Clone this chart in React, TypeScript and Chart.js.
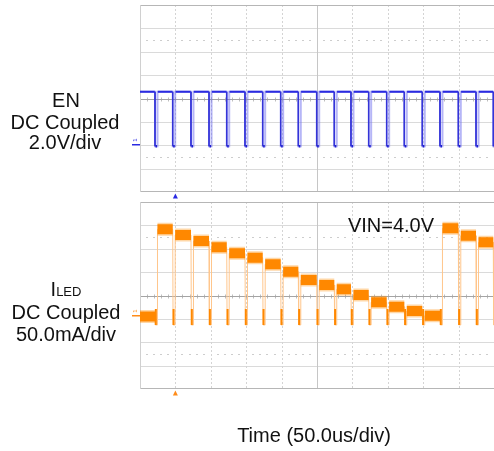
import React, { useEffect, useRef } from 'react';
import { Chart, registerables } from 'chart.js';

Chart.register(...registerables);

// ---- time base ----
const TIME_DIV_US = 50;
const TIME_DIVS = 10;
const Y_DIVS = 8;
const TRIGGER_US = 50;

// ---- EN channel (2.0 V/div) ----
const EN_PULSE_US = [21.2, 46.2, 72.0, 97.5, 122.5, 148.3, 173.3, 198.7, 223.6, 249.6, 274.4, 298.0, 323.0, 348.4, 373.3, 398.7, 423.7, 449.6, 474.6, 499.0];
const EN_PULSE_WIDTH_US = 3.5;
const EN_HIGH_V = 4.65;
const EN_LOW_V = 0;
const EN_AXIS_V = [-3.92, 12.08];

// ---- ILED channel (50.0 mA/div) ----
// level before the first EN pulse, then the level after each EN pulse
const ILED_LEVEL_MA = [0, 186.5, 174.3, 161.5, 148.0, 135.2, 125.8, 111.7, 95.8, 78.1, 67.4, 58.2, 46.0, 30.4, 21.0, 11.8, 1.7, 188.7, 172.8, 158.7, 146.0];
const ILED_DIP_MA = [-18, 16];
const ILED_AXIS_MA = [-155, 245];

type Pt = { x: number; y: number | null };

function segments(list: number[][]): Pt[] {
  const out: Pt[] = [];
  for (const [x1, y1, x2, y2] of list) {
    out.push({ x: x1, y: y1 }, { x: x2, y: y2 }, { x: x2, y: null });
  }
  return out;
}

const T_END = TIME_DIVS * TIME_DIV_US;

// EN full waveform
const enWave: Pt[] = [{ x: 0, y: EN_HIGH_V }];
EN_PULSE_US.forEach((t) => {
  enWave.push({ x: t, y: EN_HIGH_V }, { x: t, y: EN_LOW_V }, { x: t + EN_PULSE_WIDTH_US, y: EN_LOW_V }, { x: t + EN_PULSE_WIDTH_US, y: EN_HIGH_V });
});
enWave.push({ x: T_END, y: EN_HIGH_V });

const enHigh: Pt[] = segments(
  EN_PULSE_US.map((t, i) => [i === 0 ? 0 : EN_PULSE_US[i - 1] + EN_PULSE_WIDTH_US + 0.4, EN_HIGH_V, t - 0.3, EN_HIGH_V]).concat([
    [EN_PULSE_US[EN_PULSE_US.length - 1] + EN_PULSE_WIDTH_US + 0.4, EN_HIGH_V, T_END, EN_HIGH_V],
  ])
);
const enFall: Pt[] = segments(EN_PULSE_US.map((t) => [t, EN_HIGH_V, t, EN_LOW_V]));
const enLow: Pt[] = segments(EN_PULSE_US.map((t) => [t + 0.6, EN_LOW_V, t + EN_PULSE_WIDTH_US - 0.6, EN_LOW_V]));

// ILED waveform
const iledWave: Pt[] = [{ x: 0, y: ILED_LEVEL_MA[0] }];
EN_PULSE_US.forEach((t, i) => {
  iledWave.push(
    { x: t, y: ILED_LEVEL_MA[i] },
    { x: t + 0.5, y: ILED_DIP_MA[0] },
    { x: t + EN_PULSE_WIDTH_US, y: ILED_DIP_MA[0] },
    { x: t + EN_PULSE_WIDTH_US, y: ILED_LEVEL_MA[i + 1] }
  );
});
iledWave.push({ x: T_END, y: ILED_LEVEL_MA[ILED_LEVEL_MA.length - 1] });

const iledBands: Pt[] = segments(
  ILED_LEVEL_MA.map((lv, i) => [
    i === 0 ? 0 : EN_PULSE_US[i - 1] + EN_PULSE_WIDTH_US,
    lv,
    i < EN_PULSE_US.length ? EN_PULSE_US[i] : T_END,
    lv,
  ])
);
const iledDips: Pt[] = segments(EN_PULSE_US.map((t) => [t + 1.2, ILED_DIP_MA[0], t + 1.2, ILED_DIP_MA[1]]));

const scopePlugin = {
  id: 'scope',
  beforeDatasetsDraw(chart: any) {
    const { ctx, chartArea: a } = chart;
    const xs = chart.scales.x;
    const ys = chart.scales.y;
    const xDiv = (xs.max - xs.min) / TIME_DIVS;
    const yDiv = (ys.max - ys.min) / Y_DIVS;
    const px = (v: number) => Math.round(xs.getPixelForValue(v)) + 0.5;
    const py = (v: number) => Math.round(ys.getPixelForValue(v)) + 0.5;
    const line = (x1: number, y1: number, x2: number, y2: number) => {
      ctx.beginPath();
      ctx.moveTo(x1, y1);
      ctx.lineTo(x2, y2);
      ctx.stroke();
    };
    const yCenter = ys.min + (Y_DIVS / 2) * yDiv;
    const xCenter = xs.min + (TIME_DIVS / 2) * xDiv;
    ctx.save();
    ctx.lineWidth = 1;
    // horizontal grid
    ctx.strokeStyle = '#dadada';
    for (let i = 1; i < Y_DIVS; i++) {
      if (i === Y_DIVS / 2) continue;
      const y = py(ys.min + i * yDiv);
      line(a.left, y, a.right, y);
    }
    // vertical dashed grid
    ctx.strokeStyle = '#d4d4d4';
    ctx.setLineDash([2, 2]);
    for (let i = 1; i < TIME_DIVS; i++) {
      if (i === TIME_DIVS / 2) continue;
      const x = px(xs.min + i * xDiv);
      line(x, a.top, x, a.bottom);
    }
    ctx.setLineDash([]);
    // dotted rows
    ctx.fillStyle = '#cdcdcd';
    for (const off of [-2.5, 2.5]) {
      const y = Math.round(ys.getPixelForValue(yCenter + off * yDiv));
      for (let j = 1; j < TIME_DIVS * 5; j++) {
        if (j % 5 === 0) continue;
        const x = Math.round(xs.getPixelForValue(xs.min + (j * xDiv) / 5));
        ctx.fillRect(x - 1, y, 2, 1);
      }
    }
    // center vertical
    ctx.strokeStyle = '#c6c6c6';
    const xc = px(xCenter);
    line(xc, a.top, xc, a.bottom);
    // center horizontal with ticks
    const yc = py(yCenter);
    ctx.strokeStyle = '#bdbdbd';
    for (let j = 1; j < TIME_DIVS * 5; j++) {
      const x = px(xs.min + (j * xDiv) / 5);
      line(x, yc - 2, x, yc + 2);
    }
    ctx.strokeStyle = '#a4a4a4';
    line(a.left, yc, a.right, yc);
    // border
    ctx.strokeStyle = '#b6b6b6';
    line(a.left, Math.round(a.top) + 0.5, a.right, Math.round(a.top) + 0.5);
    line(a.left, Math.round(a.bottom) - 0.5, a.right, Math.round(a.bottom) - 0.5);
    ctx.strokeStyle = '#d0d0d0';
    line(Math.round(a.left) + 0.5, a.top, Math.round(a.left) + 0.5, a.bottom);
    ctx.restore();
  },
  afterDatasetsDraw(chart: any) {
    const { ctx, chartArea: a } = chart;
    const opts = chart.options.plugins.scope;
    const color = opts.color;
    const xs = chart.scales.x;
    const ys = chart.scales.y;
    ctx.save();
    // trigger marker
    const tx = xs.getPixelForValue(TRIGGER_US);
    const tb = a.bottom + 1.5;
    ctx.fillStyle = color;
    ctx.beginPath();
    ctx.moveTo(tx, tb);
    ctx.lineTo(tx + 2.5, tb + 5);
    ctx.lineTo(tx - 2.5, tb + 5);
    ctx.closePath();
    ctx.fill();
    // ground marker
    const gy = Math.round(ys.getPixelForValue(0));
    ctx.fillRect(a.left - 8, gy - 2, 8, 1.5);
    ctx.translate(a.left - 5, gy - 6);
    ctx.rotate(-Math.PI / 2);
    ctx.font = '6px "Liberation Sans", Arial, sans-serif';
    ctx.textAlign = 'center';
    ctx.textBaseline = 'middle';
    ctx.fillText('1', 0, 0);
    ctx.restore();
  },
};

function baseOptions(yRange: number[], padding: any, color: string): any {
  return {
    animation: false,
    responsive: false,
    maintainAspectRatio: false,
    devicePixelRatio: 1,
    events: [],
    layout: { padding },
    scales: {
      x: { type: 'linear', min: 0, max: T_END, display: false },
      y: { type: 'linear', min: yRange[0], max: yRange[1], display: false },
    },
    elements: {
      point: { radius: 0 },
      line: { tension: 0, borderCapStyle: 'butt', borderJoinStyle: 'miter', fill: false },
    },
    plugins: {
      legend: { display: false },
      tooltip: { enabled: false },
      scope: { color },
    },
  };
}

const W = 494;
const H = 451;

const FONT = '"Liberation Sans", Arial, Helvetica, sans-serif';

function Label({ x, y, children, size = 20 }: any) {
  return (
    <div
      style={{
        position: 'absolute',
        left: x,
        top: y,
        transform: 'translate(-50%, -50%)',
        whiteSpace: 'nowrap',
        lineHeight: 1,
        fontSize: size,
        fontFamily: FONT,
        color: '#111',
      }}
    >
      {children}
    </div>
  );
}

export default function App() {
  const topRef = useRef<HTMLCanvasElement>(null);
  const botRef = useRef<HTMLCanvasElement>(null);

  useEffect(() => {
    const top = new Chart(topRef.current as HTMLCanvasElement, {
      type: 'line',
      data: {
        datasets: [
          { data: enLow, borderColor: '#2020d0', borderWidth: 2.5, order: 0 },
          { data: enHigh, borderColor: '#2b2be0', borderWidth: 2, order: 1 },
          { data: enFall, borderColor: '#3434d8', borderWidth: 1, order: 2 },
          { data: enWave, borderColor: 'rgba(110,110,240,0.5)', borderWidth: 2, order: 3 },
        ],
      } as any,
      options: baseOptions(EN_AXIS_V, { left: 140, right: 0, top: 5, bottom: H - 192 }, '#2a2ae2'),
      plugins: [scopePlugin as any],
    });
    const bot = new Chart(botRef.current as HTMLCanvasElement, {
      type: 'line',
      data: {
        datasets: [
          { data: iledDips, borderColor: '#ff8800', borderWidth: 2, order: 0 },
          { data: iledBands, borderColor: '#ff8800', borderWidth: 10, order: 1 },
          { data: iledBands, borderColor: 'rgba(255,140,0,0.35)', borderWidth: 13, order: 2 },
          { data: iledWave, borderColor: '#ffc68c', borderWidth: 1, order: 3 },
        ],
      } as any,
      options: baseOptions(ILED_AXIS_MA, { left: 140, right: 0, top: 202, bottom: H - 389 }, '#ff8c1a'),
      plugins: [scopePlugin as any],
    });
    return () => {
      top.destroy();
      bot.destroy();
    };
  }, []);

  const canvasStyle: React.CSSProperties = { position: 'absolute', left: 0, top: 0, width: W, height: H, display: 'block' };

  return (
    <div style={{ position: 'fixed', left: 0, top: 0, width: W, height: H, background: '#fff', overflow: 'hidden' }}>
      <canvas ref={topRef} width={W} height={H} style={canvasStyle} />
      <canvas ref={botRef} width={W} height={H} style={canvasStyle} />
      <Label x={66} y={100}>EN</Label>
      <Label x={65} y={122}>DC Coupled</Label>
      <Label x={65} y={142}>2.0V/div</Label>
      <Label x={66} y={289}>
        I<span style={{ fontSize: 13 }}>LED</span>
      </Label>
      <Label x={66} y={312}>DC Coupled</Label>
      <Label x={66} y={334}>50.0mA/div</Label>
      <Label x={391} y={225}>VIN=4.0V</Label>
      <Label x={314} y={435}>Time (50.0us/div)</Label>
    </div>
  );
}
